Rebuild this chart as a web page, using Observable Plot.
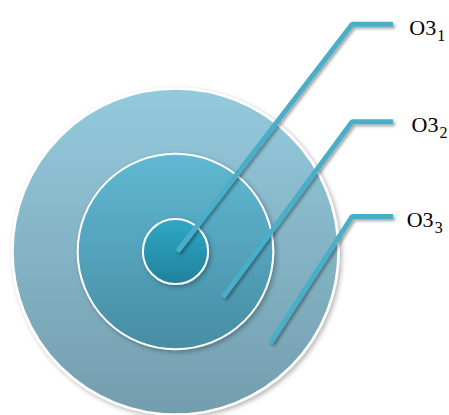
<!DOCTYPE html>
<html>
<head>
<meta charset="utf-8">
<script src="https://cdn.jsdelivr.net/npm/d3@7"></script>
<script src="https://cdn.jsdelivr.net/npm/@observablehq/plot@0.6"></script>
<style>
  html, body { margin: 0; padding: 0; background: #fff; }
  svg { display: block; }
</style>
</head>
<body>
<div id="chart"></div>
<script>
// Rings (unit radius), outer first so inner circles are drawn on top
const ringNames = ["O3_3", "O3_2", "O3_1"];
const ringRadius = [5, 3, 1];
const ringFillTop = ["#94cadd", "#60b8d2", "#2fa8c6"];
const ringFillBottom = ["#739dad", "#478da4", "#21819b"];

// Leader lines: start point inside the ring, elbow, end of horizontal stroke
const labelMain = ["O3", "O3", "O3"];
const labelSub = ["1", "2", "3"];
const startX = [0.06, 1.45, 2.9];
const startY = [0.0, -1.4, -2.8];
const elbowX = [5.4, 5.4, 5.4];
const elbowY = [6.95, 3.97, 1.07];
const endX = [6.65, 6.65, 6.65];
const labelX = [7.15, 7.22, 7.07];
const labelY = [6.85, 3.87, 0.97];

const rings = ringNames.map((n, i) => ({
  name: n, x: 0, y: 0, r: ringRadius[i], fill: `url(#grad${i})`, idx: i
}));

const leaders = labelSub.flatMap((s, i) => [
  {k: s, x: startX[i], y: startY[i]},
  {k: s, x: elbowX[i], y: elbowY[i]},
  {k: s, x: endX[i], y: elbowY[i]}
]);

const labels = labelSub.map((s, i) => ({main: labelMain[i], sub: s, x: labelX[i], y: labelY[i]}));

const u = 32.7;
const plot = Plot.plot({
  width: 449,
  height: 415,
  margin: 0,
  x: {domain: [-175 / u, (449 - 175) / u], axis: null},
  y: {domain: [-(415 - 251) / u, 251 / u], axis: null},
  r: {type: "linear", domain: [0, 5], range: [0, 163]},
  marks: [
    Plot.dot(rings, {
      x: "x", y: "y", r: "r",
      fill: "fill",
      stroke: "white",
      strokeWidth: (d) => d.idx === 0 ? 2.5 : 2,
      strokeOpacity: 1,
      fillOpacity: 1
    }),
    Plot.line(leaders, {
      x: "x", y: "y", z: "k",
      stroke: "#4aafc8",
      strokeWidth: 5,
      strokeLinejoin: "miter",
      strokeLinecap: "butt",
      curve: "linear"
    }),
    Plot.text(labels, {
      x: "x", y: "y", text: "main",
      textAnchor: "start",
      fontSize: 22,
      fontFamily: "Liberation Serif",
      fill: "#000"
    }),
    Plot.text(labels, {
      x: "x", y: "y", text: "sub",
      textAnchor: "start",
      fontSize: 16,
      fontFamily: "Liberation Serif",
      fill: "#000",
      dx: 28,
      dy: 8
    })
  ]
});

// gradients & shadows
const svg = d3.select(plot);
const defs = svg.insert("defs", ":first-child");
ringFillTop.forEach((c, i) => {
  const g = defs.append("linearGradient").attr("id", "grad" + i)
    .attr("x1", 0).attr("y1", 0).attr("x2", 0).attr("y2", 1);
  g.append("stop").attr("offset", "0%").attr("stop-color", c);
  g.append("stop").attr("offset", "100%").attr("stop-color", ringFillBottom[i]);
});
const f = defs.append("filter").attr("id", "shadow")
  .attr("x", "-20%").attr("y", "-20%").attr("width", "140%").attr("height", "140%");
f.append("feDropShadow").attr("dx", 2).attr("dy", 2).attr("stdDeviation", 1.5)
  .attr("flood-color", "#000").attr("flood-opacity", 0.35);
const f2 = defs.append("filter").attr("id", "shadow2")
  .attr("x", "-20%").attr("y", "-20%").attr("width", "140%").attr("height", "140%");
f2.append("feDropShadow").attr("dx", 2).attr("dy", 2).attr("stdDeviation", 2.5)
  .attr("flood-color", "#000").attr("flood-opacity", 0.3);

svg.selectAll("circle").attr("filter", "url(#shadow2)");
svg.selectAll("g[aria-label='line']").attr("filter", "url(#shadow)");

document.getElementById("chart").appendChild(plot);
</script>
</body>
</html>
